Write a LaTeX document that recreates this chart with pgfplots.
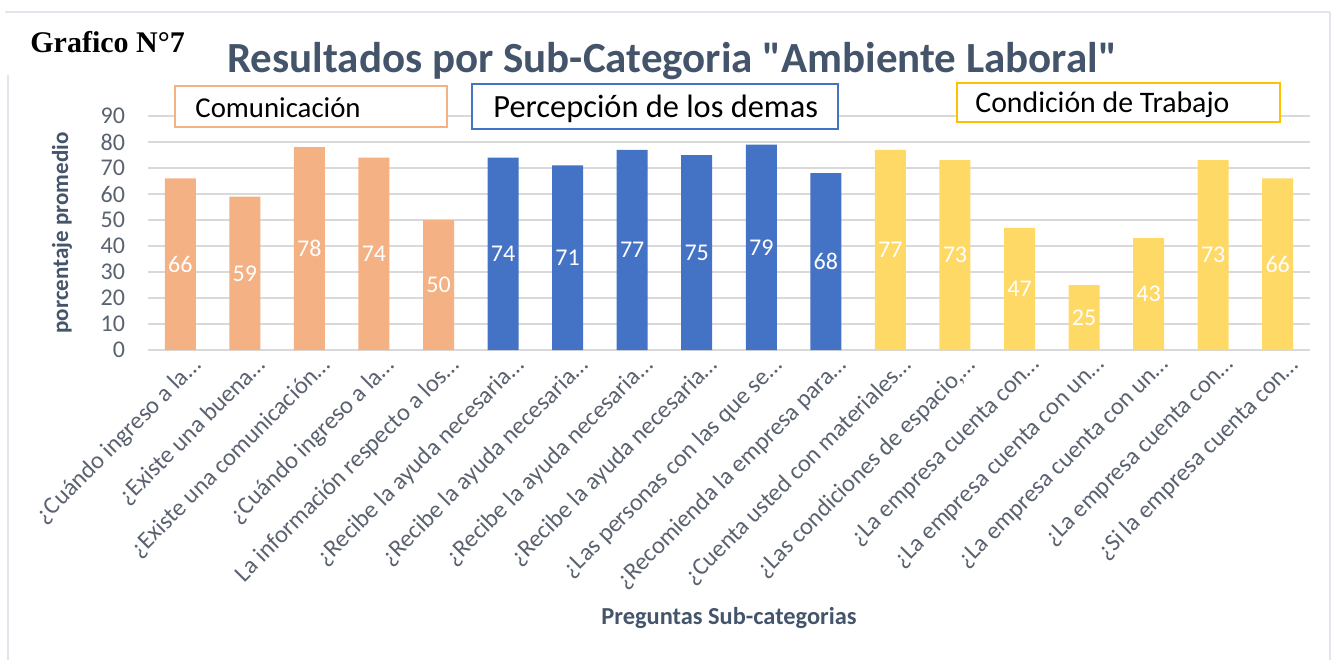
\documentclass[border=0pt]{standalone}
\usepackage{pgfplots}
\pgfplotsset{compat=1.18}
\usepackage{fontspec}
\setmainfont{Carlito}[Ligatures=TeXOff]
\newfontfamily\timesfont{Liberation Serif}
\definecolor{corange}{HTML}{F4B183}
\definecolor{cblue}{HTML}{4472C4}
\definecolor{cyellow}{HTML}{FFD966}
\definecolor{cborder}{HTML}{FFC000}
\definecolor{ctitle}{HTML}{44546A}
\definecolor{ctick}{HTML}{5A6270}
\definecolor{cgrid}{HTML}{D9D9D9}
\definecolor{cframe}{HTML}{E2E6EC}
\begin{document}
\begin{tikzpicture}[x=1pt,y=1pt]
\path (0,0) rectangle (672,330);
\draw[cframe, line width=0.8pt] (2.5,324) -- (665,324) (4,292.5) -- (4,0) (665,324) -- (665,0);
\begin{axis}[
  at={(74pt,155pt)}, anchor=south west,
  scale only axis, width=581pt, height=117pt,
  xmin=-0.5, xmax=17.5, ymin=0, ymax=90,
  ytick={0,10,...,90},
  xtick={0,...,17},
  xticklabels={¿Cuándo ingreso a la…, ¿Existe una buena…, ¿Existe una comunicación…, ¿Cuándo ingreso a la…, La información respecto a los…, ¿Recibe la ayuda necesaria…, ¿Recibe la ayuda necesaria…, ¿Recibe la ayuda necesaria…, ¿Recibe la ayuda necesaria…, ¿Las personas con las que se…, ¿Recomienda la empresa para…, ¿Cuenta usted con materiales…, {¿Las condiciones de espacio,…}, ¿La empresa cuenta con…, ¿La empresa cuenta con un…, ¿La empresa cuenta con un…, ¿La empresa cuenta con…, ¿Si la empresa cuenta con…},
  axis line style={draw=none},
  major tick length=0pt,
  ymajorgrids, grid style={cgrid, line width=0.8pt},
  /pgf/number format/assume math mode=true,
  yticklabel style={font=\fontsize{12}{13}\selectfont, text=ctick, anchor=east, xshift=-8pt},
  xticklabel style={font=\fontsize{12.2}{13}\selectfont, text=ctick, rotate=45, anchor=north east, inner sep=1pt, yshift=-4pt, xshift=3pt},
  ylabel={porcentaje promedio},
  ylabel style={font=\bfseries\fontsize{11.5}{12}\selectfont, text=ctitle, at={(axis description cs:-0.074,0.5)}, anchor=center},
  xlabel={Preguntas Sub-categorias},
  xlabel style={font=\bfseries\fontsize{12.2}{13}\selectfont, text=ctitle, at={(axis description cs:0.5,0)}, anchor=center, yshift=-134pt},
  ybar, bar width=15.5pt, bar shift=0pt,
  nodes near coords,
  visualization depends on={rawy \as \rawy},
  every node near coord/.append style={font=\fontsize{12}{13}\selectfont, text=white, anchor=center, shift={(axis direction cs:0,-\rawy/2)}},
]
\addplot[draw=none, fill=corange] coordinates {(0,66) (1,59) (2,78) (3,74) (4,50)};
\addplot[draw=none, fill=cblue] coordinates {(5,74) (6,71) (7,77) (8,75) (9,79) (10,68)};
\addplot[draw=none, fill=cyellow] coordinates {(11,77) (12,73) (13,47) (14,25) (15,43) (16,73) (17,66)};
\end{axis}
\node[anchor=base west, inner sep=0pt, font=\timesfont\bfseries\fontsize{15}{16}\selectfont] at (15,304) {Grafico N°7};
\node[anchor=base, inner sep=0pt, text=ctitle, font=\bfseries\fontsize{21.5}{22}\selectfont] at (336,294) {Resultados por Sub-Categoria "Ambiente Laboral"};
\draw[corange, line width=1pt, fill=white] (87.5,266.5) rectangle (223.5,287);
\node[anchor=base west, inner sep=0pt, font=\fontsize{14.4}{15}\selectfont] at (97.5,271.5) {Comunicación};
\draw[cblue, line width=1pt, fill=white] (236,265.5) rectangle (419,288);
\node[anchor=base west, inner sep=0pt, font=\fontsize{16.2}{17}\selectfont] at (246.5,271.5) {Percepción de los demas};
\draw[cborder, line width=1pt, fill=white] (478.5,269) rectangle (640,288.5);
\node[anchor=base west, inner sep=0pt, font=\fontsize{14.9}{16}\selectfont] at (487.5,274) {Condición de Trabajo};
\end{tikzpicture}
\end{document}
